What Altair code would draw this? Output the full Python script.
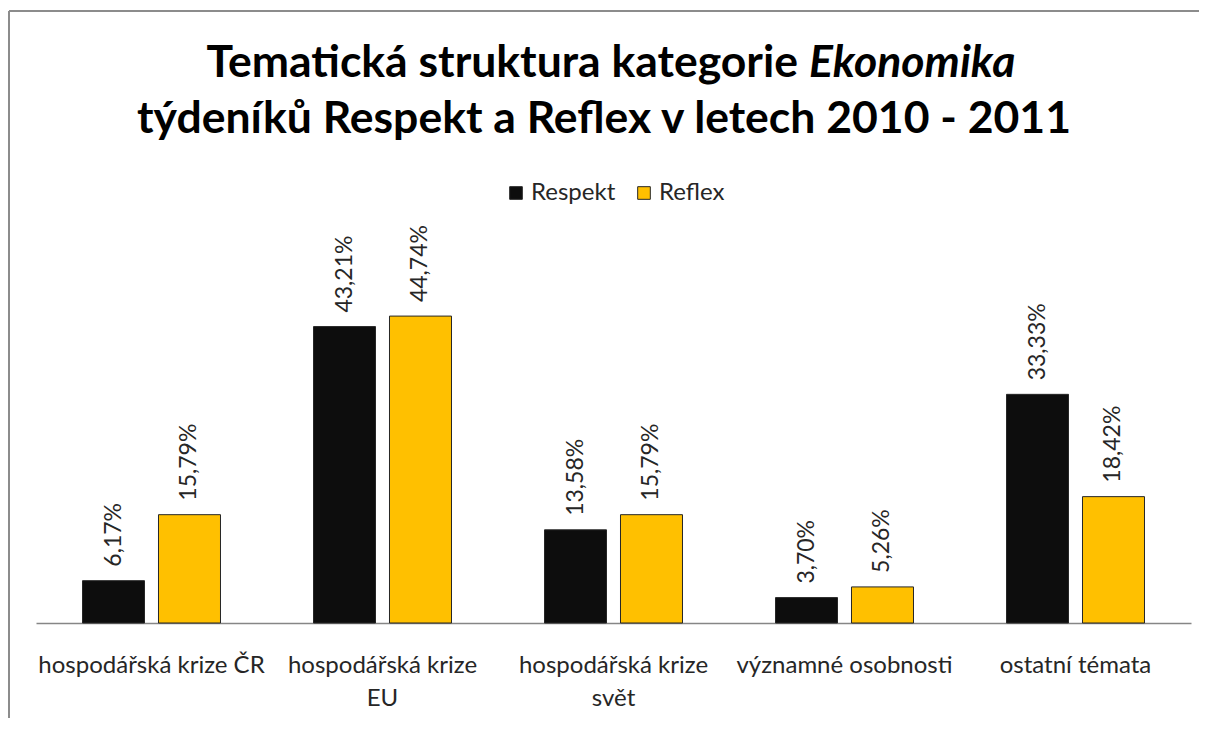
import altair as alt
import pandas as pd

# ---- data ----
categories = [
    "hospodářská krize ČR",
    "hospodářská krize\nEU",
    "hospodářská krize\nsvět",
    "významné osobnosti",
    "ostatní témata",
]
series = ["Respekt", "Reflex"]
respekt = [6.17, 43.21, 13.58, 3.70, 33.33]
reflex = [15.79, 44.74, 15.79, 5.26, 18.42]
colors = ["#0D0D0D", "#FFC000"]
title_part1 = ["Tematická struktura kategorie"]
title_italic = ["Ekonomika"]
title_line2 = ["týdeníků Respekt a Reflex v letech 2010 - 2011"]

rows = []
for c, a, b in zip(categories, respekt, reflex):
    rows.append({"cat": c, "series": "Respekt", "value": a})
    rows.append({"cat": c, "series": "Reflex", "value": b})
df = pd.DataFrame(rows)
df["label"] = df["value"].map(lambda v: f"{v:.2f}".replace(".", ",") + "%")

W, H = 1155, 343
FONT = "Lato"
TXT = "#262626"
TFS = 44.5

x = alt.X(
    "cat:N",
    sort=categories,
    scale=alt.Scale(paddingInner=0, paddingOuter=0),
    axis=alt.Axis(
        title=None,
        labelExpr="split(datum.value, '\\n')",
        labelAngle=0,
        ticks=False,
        domainColor="#868686",
        domainWidth=1.5,
        labelFontSize=24,
        labelFont=FONT,
        labelColor=TXT,
        labelPadding=30,
        labelLineHeight=33,
        labelLimit=400,
        labelOverlap=False,
    ),
)
xo = alt.XOffset("series:N", sort=series,
                 scale=alt.Scale(paddingInner=0.184, paddingOuter=0.612))
y = alt.Y("value:Q", scale=alt.Scale(domain=[0, 50]), axis=None)

base = alt.Chart(df)
bars = base.mark_bar(stroke="#262626", strokeWidth=1).encode(
    x=x, xOffset=xo, y=y,
    color=alt.Color(
        "series:N", sort=series,
        scale=alt.Scale(domain=series, range=colors),
        legend=alt.Legend(
            title=None, orient="none", legendX=468, legendY=-99,
            direction="horizontal", symbolType="square", symbolSize=160,
            symbolStrokeColor="#262626", symbolStrokeWidth=1,
            labelFontSize=24, labelFont=FONT, labelColor=TXT,
            columnPadding=16, labelOffset=3, padding=0,
        ),
    ),
)
labels = base.mark_text(
    angle=270, align="left", baseline="middle", dx=14,
    fontSize=23, font=FONT, color=TXT,
).encode(x=x, xOffset=xo, y=y, text="label:N")

t1 = alt.Chart(pd.DataFrame({"t": title_part1})).mark_text(
    align="right", baseline="alphabetic", fontSize=TFS, fontWeight="bold",
    font=FONT, color="black",
).encode(x=alt.value(762), y=alt.value(-203), text="t:N")
t1i = alt.Chart(pd.DataFrame({"t": title_italic})).mark_text(
    align="left", baseline="alphabetic", fontSize=TFS, fontWeight="bold",
    fontStyle="italic", font=FONT, color="black",
).encode(x=alt.value(773), y=alt.value(-203), text="t:N")
t2 = alt.Chart(pd.DataFrame({"t": title_line2})).mark_text(
    align="center", baseline="alphabetic", fontSize=TFS, fontWeight="bold",
    font=FONT, color="black",
).encode(x=alt.value(568), y=alt.value(-147), text="t:N")

border_left = alt.Chart(pd.DataFrame({"k": [0]})).mark_rule(
    color="#8c8c8c", strokeWidth=2
).encode(x=alt.value(-27), x2=alt.value(-27),
         y=alt.value(-269), y2=alt.value(H + 95))
border_top = alt.Chart(pd.DataFrame({"k": [0]})).mark_rule(
    color="#8c8c8c", strokeWidth=2
).encode(x=alt.value(-27), x2=alt.value(W + 8),
         y=alt.value(-269), y2=alt.value(-269))

chart = alt.layer(border_left, border_top, bars, labels, t1, t1i, t2).properties(
    width=W, height=H,
    padding={"left": 28, "top": 272, "right": 8, "bottom": 95},
    autosize=alt.AutoSizeParams(type="none"),
    background="white",
).configure_view(stroke=None)

chart.save("out.html", embed_options={"renderer": "svg", "actions": False})
